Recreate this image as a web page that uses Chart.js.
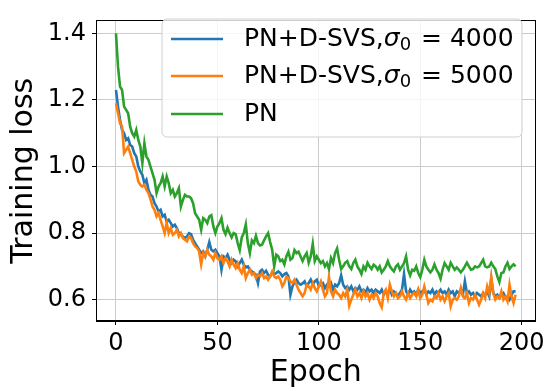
<!DOCTYPE html>
<html>
<head>
<meta charset="utf-8">
<script src="https://cdn.jsdelivr.net/npm/chart.js@4.4.1/dist/chart.umd.min.js"></script>
<style>
    body { margin: 0; background: #fff; }
    #box { width: 549px; height: 391px; }
</style>
</head>
<body>
<div id="box"><canvas id="graficoLoss" width="549" height="391"></canvas></div>
<script>
// valores (epocas 0..197)
const lossSvs4000 = [
    1.23, 1.18, 1.14, 1.11, 1.10, 1.08, 1.085, 1.065, 1.06, 1.04,
    1.03, 1.00, 0.985, 0.975, 0.95, 0.96, 0.93, 0.915, 0.91, 0.89,
    0.88, 0.865, 0.87, 0.85, 0.855, 0.835, 0.84, 0.83, 0.82, 0.825,
    0.815, 0.80, 0.795, 0.79, 0.785, 0.79, 0.80, 0.797, 0.78, 0.77,
    0.76, 0.75, 0.74, 0.745, 0.73, 0.75, 0.773, 0.75, 0.745, 0.75,
    0.74, 0.73, 0.69, 0.73, 0.725, 0.735, 0.72, 0.71, 0.72, 0.715,
    0.70, 0.71, 0.72, 0.705, 0.697, 0.70, 0.69, 0.685, 0.68, 0.675,
    0.65, 0.685, 0.69, 0.68, 0.687, 0.675, 0.67, 0.68, 0.677, 0.68,
    0.685, 0.68, 0.67, 0.677, 0.68, 0.67, 0.615, 0.64, 0.653, 0.66,
    0.65, 0.645, 0.649, 0.655, 0.64, 0.65, 0.66, 0.645, 0.655, 0.66,
    0.64, 0.645, 0.65, 0.635, 0.645, 0.64, 0.65, 0.63, 0.645, 0.64,
    0.65, 0.673, 0.645, 0.635, 0.64, 0.63, 0.64, 0.625, 0.635, 0.63,
    0.64, 0.625, 0.63, 0.62, 0.635, 0.625, 0.63, 0.62, 0.63, 0.625,
    0.62, 0.63, 0.615, 0.625, 0.62, 0.63, 0.615, 0.625, 0.62, 0.61,
    0.62, 0.63, 0.677, 0.625, 0.615, 0.63, 0.62, 0.625, 0.615, 0.63,
    0.62, 0.625, 0.63, 0.615, 0.625, 0.62, 0.63, 0.615, 0.625, 0.62,
    0.63, 0.62, 0.625, 0.615, 0.63, 0.62, 0.625, 0.61, 0.625, 0.62,
    0.63, 0.615, 0.655, 0.62, 0.625, 0.615, 0.62, 0.61, 0.62, 0.615,
    0.61, 0.62, 0.615, 0.625, 0.61, 0.663, 0.62, 0.61, 0.615, 0.605,
    0.615, 0.62, 0.605, 0.61, 0.60, 0.615, 0.625, 0.625
];
const lossSvs5000 = [
    1.19, 1.16, 1.13, 1.12, 1.04, 1.05, 1.06, 1.04, 1.02, 1.00,
    0.985, 0.955, 0.945, 0.94, 0.945, 0.93, 0.92, 0.902, 0.88, 0.87,
    0.85, 0.86, 0.84, 0.82, 0.80, 0.83, 0.80, 0.815, 0.795, 0.80,
    0.81, 0.79, 0.80, 0.785, 0.78, 0.775, 0.79, 0.785, 0.77, 0.76,
    0.755, 0.745, 0.706, 0.74, 0.73, 0.75, 0.735, 0.73, 0.72, 0.74,
    0.725, 0.72, 0.73, 0.71, 0.725, 0.715, 0.70, 0.72, 0.705, 0.695,
    0.71, 0.69, 0.68, 0.70, 0.665, 0.68, 0.69, 0.675, 0.68, 0.665,
    0.675, 0.67, 0.68, 0.665, 0.67, 0.66, 0.67, 0.685, 0.67, 0.665,
    0.67, 0.66, 0.64, 0.65, 0.67, 0.665, 0.655, 0.65, 0.66, 0.645,
    0.63, 0.62, 0.61, 0.62, 0.645, 0.64, 0.63, 0.65, 0.635, 0.625,
    0.64, 0.655, 0.63, 0.61, 0.62, 0.668, 0.625, 0.61, 0.63, 0.62,
    0.615, 0.605, 0.62, 0.61, 0.63, 0.582, 0.60, 0.615, 0.63, 0.61,
    0.62, 0.605, 0.625, 0.61, 0.62, 0.60, 0.615, 0.605, 0.62, 0.61,
    0.59, 0.577, 0.62, 0.63, 0.605, 0.645, 0.625, 0.61, 0.62, 0.605,
    0.61, 0.625, 0.61, 0.60, 0.62, 0.605, 0.615, 0.62, 0.61, 0.63,
    0.605, 0.615, 0.64, 0.615, 0.59, 0.60, 0.595, 0.61, 0.605, 0.62,
    0.60, 0.61, 0.595, 0.61, 0.62, 0.58, 0.60, 0.605, 0.60, 0.61,
    0.635, 0.61, 0.605, 0.62, 0.59, 0.605, 0.60, 0.615, 0.60, 0.585,
    0.60, 0.62, 0.605, 0.64, 0.62, 0.668, 0.62, 0.60, 0.61, 0.605,
    0.625, 0.60, 0.61, 0.595, 0.645, 0.61, 0.59, 0.615
];
const lossPN = [
    1.40, 1.30, 1.24, 1.23, 1.18, 1.17, 1.16, 1.12, 1.10, 1.09,
    1.11, 1.08, 1.06, 1.01, 1.07, 1.03, 1.02, 1.00, 0.98, 0.96,
    0.92, 0.94, 0.95, 0.97, 0.94, 0.97, 0.95, 0.92, 0.93, 0.91,
    0.92, 0.935, 0.88, 0.90, 0.915, 0.91, 0.91, 0.905, 0.89, 0.86,
    0.85, 0.84, 0.81, 0.845, 0.84, 0.83, 0.85, 0.854, 0.82, 0.80,
    0.82, 0.83, 0.845, 0.81, 0.797, 0.816, 0.80, 0.787, 0.80, 0.797,
    0.77, 0.749, 0.787, 0.80, 0.826, 0.77, 0.74, 0.778, 0.77, 0.792,
    0.77, 0.763, 0.765, 0.778, 0.79, 0.80, 0.773, 0.75, 0.70, 0.735,
    0.73, 0.716, 0.72, 0.706, 0.73, 0.744, 0.72, 0.725, 0.749, 0.74,
    0.744, 0.73, 0.716, 0.73, 0.74, 0.711, 0.73, 0.768, 0.716, 0.73,
    0.72, 0.71, 0.716, 0.70, 0.71, 0.692, 0.725, 0.71, 0.74, 0.754,
    0.72, 0.692, 0.70, 0.711, 0.716, 0.70, 0.692, 0.71, 0.72, 0.70,
    0.69, 0.677, 0.70, 0.69, 0.711, 0.70, 0.692, 0.705, 0.70, 0.69,
    0.70, 0.682, 0.69, 0.70, 0.716, 0.70, 0.692, 0.685, 0.70, 0.706,
    0.69, 0.70, 0.71, 0.73, 0.69, 0.673, 0.69, 0.687, 0.70, 0.68,
    0.668, 0.69, 0.72, 0.70, 0.69, 0.682, 0.69, 0.706, 0.69, 0.68,
    0.663, 0.69, 0.71, 0.70, 0.69, 0.711, 0.70, 0.69, 0.697, 0.69,
    0.682, 0.69, 0.70, 0.711, 0.70, 0.69, 0.692, 0.70, 0.697, 0.70,
    0.71, 0.72, 0.70, 0.697, 0.70, 0.711, 0.70, 0.692, 0.67, 0.653,
    0.68, 0.682, 0.70, 0.711, 0.692, 0.70, 0.706, 0.70
];
const epocas = Array.from({ length: lossPN.length }, (_, i) => i);
const ticksX = [0, 50, 100, 150, 200];
const ticksY = [0.6, 0.8, 1.0, 1.2, 1.4];
const legendas = [
    { pre: 'PN+D-SVS,', sigma: true, post: ' = 4000', cor: '#1f77b4' },
    { pre: 'PN+D-SVS,', sigma: true, post: ' = 5000', cor: '#ff7f0e' },
    { pre: 'PN', sigma: false, post: '', cor: '#2ca02c' }
];

const FONTE = '"DejaVu Sans", sans-serif';

// moldura completa + legenda estilo matplotlib
const molduraLegenda = {
    id: 'molduraLegenda',
    afterDraw(chart) {
        const { ctx, chartArea: a } = chart;
        ctx.save();
        ctx.strokeStyle = '#000';
        ctx.lineWidth = 1;
        ctx.strokeRect(Math.round(a.left) + 0.5, Math.round(a.top) + 0.5,
            Math.round(a.right - a.left) - 1, Math.round(a.bottom - a.top) - 1);

        // caixa da legenda
        const bx = 162, by = 19, bw = 360, bh = 118, r = 5;
        ctx.beginPath();
        ctx.moveTo(bx + r, by);
        ctx.arcTo(bx + bw, by, bx + bw, by + bh, r);
        ctx.arcTo(bx + bw, by + bh, bx, by + bh, r);
        ctx.arcTo(bx, by + bh, bx, by, r);
        ctx.arcTo(bx, by, bx + bw, by, r);
        ctx.closePath();
        ctx.fillStyle = 'rgba(255,255,255,0.8)';
        ctx.fill();
        ctx.strokeStyle = '#d0d0d0';
        ctx.stroke();

        const linhasY = [39, 76, 114];
        legendas.forEach((l, i) => {
            const y = linhasY[i];
            ctx.strokeStyle = l.cor;
            ctx.lineWidth = 2.6;
            ctx.beginPath();
            ctx.moveTo(171, y);
            ctx.lineTo(223, y);
            ctx.stroke();

            ctx.fillStyle = '#000';
            ctx.textBaseline = 'middle';
            ctx.textAlign = 'left';
            let x = 244;
            ctx.font = '25px ' + FONTE;
            ctx.fillText(l.pre, x, y);
            x += ctx.measureText(l.pre).width;
            if (l.sigma) {
                ctx.font = 'italic 25px ' + FONTE;
                ctx.fillText('σ', x, y);
                x += ctx.measureText('σ').width;
                ctx.font = '18px ' + FONTE;
                ctx.fillText('0', x, y + 6);
                x += ctx.measureText('0').width + 2;
                ctx.font = '25px ' + FONTE;
                ctx.fillText(l.post, x, y);
            }
        });
        ctx.restore();
    }
};

const ctx = document.getElementById('graficoLoss').getContext('2d');
const grafico = new Chart(ctx, {
    type: 'line',
    data: {
        labels: epocas,
        datasets: [
            { label: 'PN+D-SVS,σ0 = 4000', data: lossSvs4000, borderColor: '#1f77b4', order: 2 },
            { label: 'PN+D-SVS,σ0 = 5000', data: lossSvs5000, borderColor: '#ff7f0e', order: 1 },
            { label: 'PN', data: lossPN, borderColor: '#2ca02c', order: 0 }
        ]
    },
    options: {
        responsive: false,
        animation: false,
        events: [],
        layout: { padding: { left: 0, top: 6, right: 13, bottom: 0 } },
        elements: {
            line: { borderWidth: 2.6, tension: 0, fill: false },
            point: { radius: 0 }
        },
        plugins: { legend: { display: false }, tooltip: { enabled: false } },
        scales: {
            x: {
                type: 'linear',
                min: -9.85,
                max: 206.85,
                afterBuildTicks: (s) => { s.ticks = ticksX.map(v => ({ value: v })); },
                afterFit: (s) => { s.height = 70; },
                grid: { color: '#cccccc', lineWidth: 1, tickColor: '#000', tickLength: 4 },
                border: { display: true, color: '#000', width: 1 },
                ticks: { font: { family: FONTE, size: 24 }, color: '#000', padding: 4, maxRotation: 0 },
                title: { display: true, text: 'Epoch', font: { family: FONTE, size: 30 }, color: '#000', padding: { top: 0, bottom: 0 } }
            },
            y: {
                min: 0.536,
                max: 1.439,
                afterBuildTicks: (s) => { s.ticks = ticksY.map(v => ({ value: v })); },
                afterFit: (s) => { s.width = 96; },
                grid: { color: '#cccccc', lineWidth: 1, tickColor: '#000', tickLength: 4 },
                border: { display: true, color: '#000', width: 1 },
                ticks: { font: { family: FONTE, size: 24 }, color: '#000', padding: 6, callback: v => v.toFixed(1) },
                title: { display: true, text: 'Training loss', font: { family: FONTE, size: 30 }, color: '#000', padding: { top: 6, bottom: 0 } }
            }
        }
    },
    plugins: [molduraLegenda]
});
</script>
</body>
</html>
